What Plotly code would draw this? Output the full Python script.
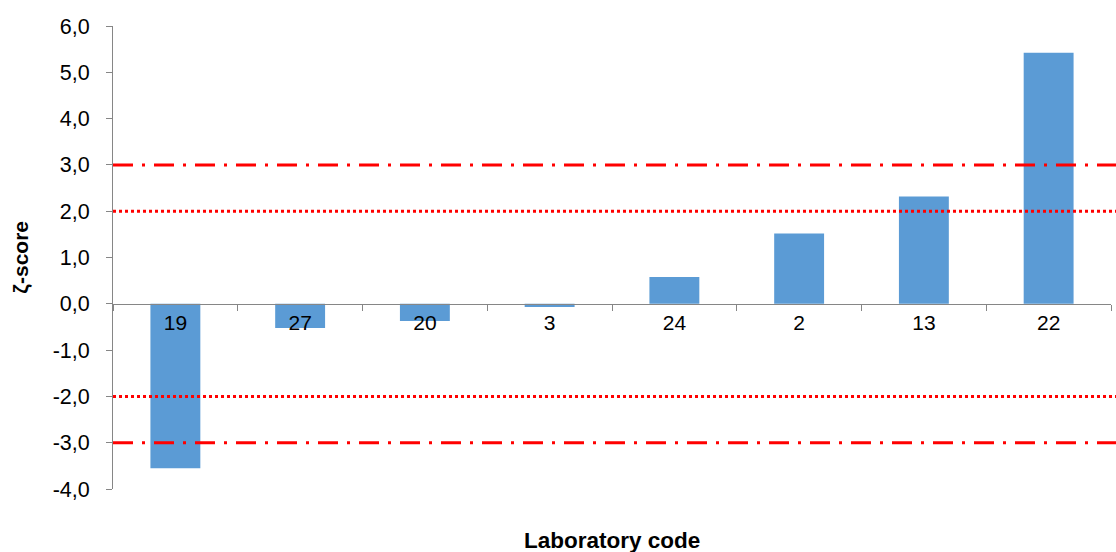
import plotly.graph_objects as go

labs = ["19", "27", "20", "3", "24", "2", "13", "22"]
zscores = [-3.55, -0.52, -0.37, -0.07, 0.58, 1.52, 2.32, 5.42]
warn_limits = [2.0, -2.0]
action_limits = [3.0, -3.0]
y_ticks = [-4, -3, -2, -1, 0, 1, 2, 3, 4, 5, 6]
y_tick_text = [f"{v:.1f}".replace(".", ",") for v in y_ticks]

fig = go.Figure()
fig.add_trace(go.Bar(x=labs, y=zscores, marker=dict(color="#5B9BD5", line=dict(width=0)),
                     width=0.4, showlegend=False))

shapes = []
for v in action_limits:
    shapes.append(dict(type="line", xref="paper", yref="y", x0=0, x1=1.005, y0=v, y1=v,
                       line=dict(color="#FF0000", width=3, dash="20px,9px,3px,9px")))
for v in warn_limits:
    shapes.append(dict(type="line", xref="paper", yref="y", x0=0, x1=1.005, y0=v, y1=v,
                       line=dict(color="#FF0000", width=3, dash="3px,3px")))

fig.update_layout(
    width=1116, height=552,
    margin=dict(l=113, r=5, t=26, b=63),
    plot_bgcolor="white", paper_bgcolor="white",
    font=dict(family="Liberation Sans, Arial, sans-serif", size=21, color="black"),
    shapes=shapes,
    bargap=0.6,
    xaxis=dict(anchor="free", position=0.4, showline=True, linecolor="#868686", linewidth=1,
               ticks="outside", tickson="boundaries", ticklen=6, tickcolor="#868686",
               showgrid=False, zeroline=False, tickfont=dict(size=21), automargin=False),
    yaxis=dict(range=[-4, 6], tickvals=y_ticks, ticktext=y_tick_text, showline=True,
               linecolor="#868686", linewidth=1, ticks="outside", ticklen=6, tickcolor="#868686",
               showgrid=False, zeroline=False, tickfont=dict(size=21.5), automargin=False,
               ticklabelstandoff=12),
    annotations=[
        dict(text="<b>Laboratory code</b>", xref="paper", yref="paper", x=0.5, y=-0.112,
             xanchor="center", yanchor="middle", showarrow=False, font=dict(size=22.5)),
        dict(text="<b>ζ-score</b>", xref="paper", yref="paper", x=-0.093, y=0.5,
             xanchor="center", yanchor="middle", textangle=-90, showarrow=False, font=dict(size=21)),
    ],
)

fig.write_html("out.html", config={"displayModeBar": False},
               post_script="document.body.style.margin='0';")
